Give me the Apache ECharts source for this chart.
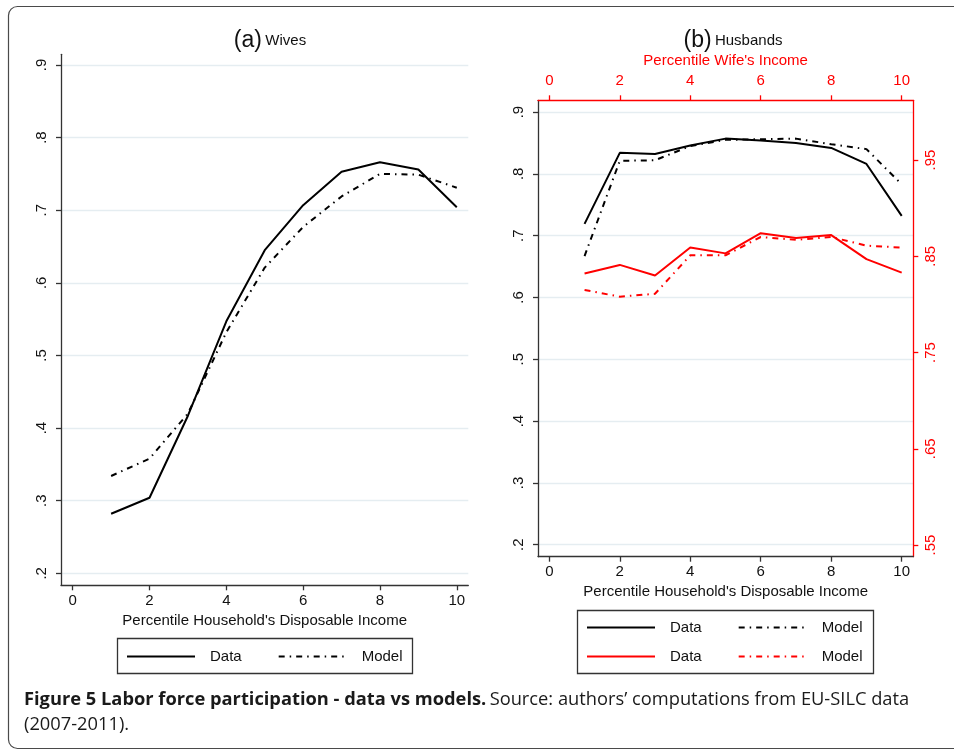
<!DOCTYPE html>
<html><head><meta charset="utf-8">
<script src="https://cdn.jsdelivr.net/npm/echarts@6/dist/echarts.min.js"></script>
<style>html,body{margin:0;padding:0;background:#fff}#c{width:954px;height:750px}</style>
</head><body><div id="c"></div>
<script>
// ---- data ----
const percentiles = [1, 2, 3, 4, 5, 6, 7, 8, 9, 10];
const wivesData = [0.282, 0.304, 0.417, 0.547, 0.645, 0.707, 0.753, 0.766, 0.756, 0.704];
const wivesModel = [0.334, 0.358, 0.420, 0.532, 0.621, 0.677, 0.719, 0.750, 0.749, 0.731];
const husbandsData = [0.719, 0.834, 0.832, 0.846, 0.857, 0.854, 0.850, 0.842, 0.816, 0.732];
const husbandsModel = [0.667, 0.821, 0.822, 0.845, 0.855, 0.856, 0.857, 0.848, 0.840, 0.783];
const husbandsWifeData = [0.832, 0.841, 0.830, 0.859, 0.853, 0.874, 0.869, 0.872, 0.847, 0.833];
const husbandsWifeModel = [0.815, 0.808, 0.811, 0.851, 0.851, 0.870, 0.867, 0.870, 0.861, 0.859];
const xTicks = [0, 2, 4, 6, 8, 10];
const leftYTicks = [0.2, 0.3, 0.4, 0.5, 0.6, 0.7, 0.8, 0.9];
const rightYTicks = [0.55, 0.65, 0.75, 0.85, 0.95];
const xTitle = "Percentile Household's Disposable Income";
const topTitle = "Percentile Wife's Income";

// ---- styles ----
const FONT = 'Liberation Sans';
const FS = 15;
const INK = '#111';
const AX = '#333';
const RED = '#ff0000';
const GRIDC = '#e5edf1';
const DASHDOT = [6, 5, 1.5, 5];
const CAPFS = 18.3;

function pts(arr) { return percentiles.map((p, i) => [p, arr[i]]); }
function fmt(d) { return v => v.toFixed(d).replace(/^0/, ''); }
function series(name, arr, xi, yi, color, dashed) {
  return {
    type: 'line', name, xAxisIndex: xi, yAxisIndex: yi, data: pts(arr),
    symbol: 'none', silent: true, animation: false,
    lineStyle: { color, width: 2, type: dashed ? DASHDOT : 'solid', cap: 'butt' },
    itemStyle: { color }
  };
}
function xAxis(grid, min, max, pos, color, name, nameGap, labelMargin) {
  return {
    gridIndex: grid, type: 'value', min, max, position: pos,
    axisLine: { show: true, onZero: false, lineStyle: { color, width: 1.3 } },
    axisTick: { show: true, customValues: xTicks, length: 5, lineStyle: { color, width: 1.3 } },
    axisLabel: { customValues: xTicks, margin: labelMargin, fontSize: FS, fontFamily: FONT, color: color === AX ? INK : color },
    splitLine: { show: false },
    name, nameLocation: 'middle', nameGap,
    nameTextStyle: { fontSize: FS, fontFamily: FONT, color: color === AX ? INK : color }
  };
}
function yAxis(grid, min, max, pos, color, ticks, dec, split, margin) {
  return {
    gridIndex: grid, type: 'value', min, max, position: pos,
    axisLine: { show: true, onZero: false, lineStyle: { color, width: 1.3 } },
    axisTick: { show: true, customValues: ticks, length: 5, lineStyle: { color, width: 1.3 } },
    axisLabel: { customValues: ticks, rotate: 90, margin, formatter: fmt(dec), fontSize: FS, fontFamily: FONT, color: color === AX ? INK : color },
    splitLine: { show: split, lineStyle: { color: GRIDC, width: 1.3 } }
  };
}
function legendRow(names, left, top) {
  return {
    data: names, left, top, padding: 0, orient: 'horizontal', itemWidth: 68, itemHeight: 14, itemGap: 36,
    selectedMode: false, formatter: n => n.split(' ')[0],
    itemStyle: { opacity: 0 },
    textStyle: { fontSize: FS, fontFamily: FONT, color: INK, padding: [0, 0, 0, 10] }
  };
}

const chart = echarts.init(document.getElementById('c'), null, { renderer: 'canvas' });
chart.setOption({
  animation: false,
  backgroundColor: '#fff',
  grid: [
    { left: 61, top: 54.3, width: 407.3, height: 531, containLabel: false, outerBoundsMode: 'none' },
    { left: 538, top: 100.3, width: 375.3, height: 456.4, containLabel: false, outerBoundsMode: 'none' }
  ],
  xAxis: [
    xAxis(0, -0.305, 10.30, 'bottom', AX, xTitle, 24, 8),
    xAxis(1, -0.321, 10.329, 'bottom', AX, xTitle, 24, 8),
    xAxis(1, -0.321, 10.329, 'top', RED, topTitle, 30, 12)
  ],
  yAxis: [
    yAxis(0, 0.1835, 0.9147, 'left', AX, leftYTicks, 1, true, 12),
    yAxis(1, 0.1806, 0.919, 'left', AX, leftYTicks, 1, true, 12),
    yAxis(1, 0.5379, 1.012, 'right', RED, rightYTicks, 2, false, 10)
  ],
  legend: [
    legendRow(['Data (a)', 'Model (a)'], 126, 649),
    legendRow(['Data (b1)', 'Model (b1)'], 586, 620),
    legendRow(['Data (b2)', 'Model (b2)'], 586, 649)
  ],
  series: [
    series('Data (a)', wivesData, 0, 0, '#000', false),
    series('Model (a)', wivesModel, 0, 0, '#000', true),
    series('Data (b1)', husbandsData, 1, 1, '#000', false),
    series('Model (b1)', husbandsModel, 1, 1, '#000', true),
    series('Data (b2)', husbandsWifeData, 2, 2, RED, false),
    series('Model (b2)', husbandsWifeModel, 2, 2, RED, true)
  ],
  graphic: [
    { type: 'rect', silent: true, shape: { x: 8.5, y: 6.5, width: 980, height: 742, r: 9 },
      style: { fill: 'none', stroke: '#4a4a4a', lineWidth: 1.2 } },
    { type: 'rect', silent: true, shape: { x: 117.5, y: 638.5, width: 295, height: 35 },
      style: { fill: 'none', stroke: '#333', lineWidth: 1.3 } },
    { type: 'rect', silent: true, shape: { x: 577.5, y: 610.5, width: 296, height: 63 },
      style: { fill: 'none', stroke: '#333', lineWidth: 1.3 } },
    { type: 'text', silent: true, x: 270, y: 41,
      style: { text: '{p|(a)} {w|Wives}', align: 'center', verticalAlign: 'middle',
        rich: { p: { fontSize: 23, fontFamily: FONT, fill: INK }, w: { fontSize: FS, fontFamily: FONT, fill: INK } } } },
    { type: 'text', silent: true, x: 733, y: 41,
      style: { text: '{p|(b)} {w|Husbands}', align: 'center', verticalAlign: 'middle',
        rich: { p: { fontSize: 23, fontFamily: FONT, fill: INK }, w: { fontSize: FS, fontFamily: FONT, fill: INK } } } },
    { type: 'text', silent: true, x: 24, y: 700,
      style: { text: '{b|Figure 5 Labor force participation - data vs models.} {n|Source: authors\u2019 computations from EU-SILC data}',
        verticalAlign: 'middle',
        rich: { b: { fontSize: CAPFS, fontWeight: 'bold', fontFamily: 'Open Sans', fill: '#1a1a1a' },
                n: { fontSize: CAPFS, fontFamily: 'Open Sans', fill: '#1a1a1a' } } } },
    { type: 'text', silent: true, x: 24, y: 725,
      style: { text: '(2007-2011).', verticalAlign: 'middle', fontSize: CAPFS, fontFamily: 'Open Sans', fill: '#1a1a1a' } }
  ]
});
</script></body></html>
